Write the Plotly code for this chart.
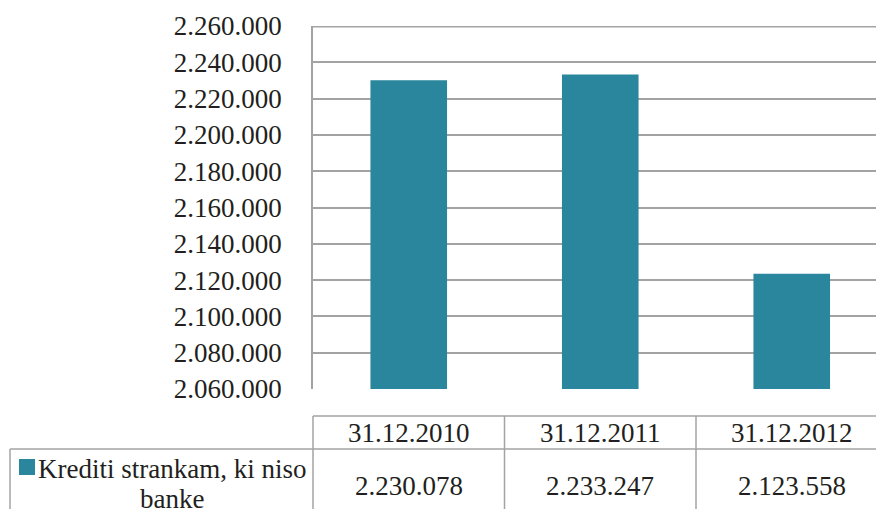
import plotly.graph_objects as go

categories = ["31.12.2010", "31.12.2011", "31.12.2012"]
values = [2230078, 2233247, 2123558]
series_name_lines = ["Krediti strankam, ki niso", "banke"]
y_min, y_max, y_step = 2060000, 2260000, 20000

BAR = "#2a869c"
GRID = "#a3a3a3"
TXT = "#231f20"
FONT = "Liberation Serif"
FS = 27

W, H = 876, 509
L, R, T, B = 313, 0, 26, 120
PW, PH = W - L - R, H - T - B


def px_x(px):
    return (px - L) / PW


def px_y(py):
    return (H - B - py) / PH


def fmt(v):
    return f"{v:,}".replace(",", ".")


fig = go.Figure()
fig.add_trace(go.Bar(
    x=list(range(len(categories))), y=values, name=" ".join(series_name_lines),
    marker=dict(color=BAR, line=dict(width=0)), width=0.40, showlegend=False,
))

shapes = []
line = dict(color=GRID, width=1.5)
# top gridline (at plot edge)
shapes.append(dict(type="line", xref="paper", yref="paper", x0=0, x1=1,
                   y0=0.998, y1=0.998, line=line))
# table lines
shapes.append(dict(type="line", xref="paper", yref="paper", x0=0, x1=1,
                   y0=px_y(416), y1=px_y(416), line=line))
shapes.append(dict(type="line", xref="paper", yref="paper", x0=px_x(10), x1=1,
                   y0=px_y(449), y1=px_y(449), line=line))
shapes.append(dict(type="line", xref="paper", yref="paper", x0=px_x(10), x1=px_x(10),
                   y0=px_y(449), y1=px_y(540), line=line))
shapes.append(dict(type="line", xref="paper", yref="paper", x0=0, x1=0,
                   y0=px_y(416), y1=px_y(540), line=line))
for i in range(len(categories) - 1):
    shapes.append(dict(type="line", xref="x", yref="paper", x0=i + 0.5, x1=i + 0.5,
                       y0=px_y(416), y1=px_y(540), line=line))
# legend key
shapes.append(dict(type="rect", xref="paper", yref="paper", x0=px_x(19), x1=px_x(35),
                   y0=px_y(475), y1=px_y(459), fillcolor=BAR, line=dict(width=0)))

annotations = []
for i, (c, v) in enumerate(zip(categories, values)):
    annotations.append(dict(x=i, xref="x", y=px_y(433), yref="paper", text=c,
                            showarrow=False, xanchor="center", yanchor="middle",
                            font=dict(family=FONT, size=FS, color=TXT)))
    annotations.append(dict(x=i, xref="x", y=px_y(486), yref="paper", text=fmt(v),
                            showarrow=False, xanchor="center", yanchor="middle",
                            font=dict(family=FONT, size=FS, color=TXT)))
annotations.append(dict(x=px_x(171.5), xref="paper", y=px_y(469), yref="paper",
                        text=series_name_lines[0], showarrow=False, xanchor="center",
                        yanchor="middle", font=dict(family=FONT, size=FS, color=TXT)))
annotations.append(dict(x=px_x(171.5), xref="paper", y=px_y(499), yref="paper",
                        text=series_name_lines[1], showarrow=False, xanchor="center",
                        yanchor="middle", font=dict(family=FONT, size=FS, color=TXT)))

tickvals = list(range(y_min, y_max + 1, y_step))
fig.update_layout(
    width=W, height=H, margin=dict(l=L, r=R, t=T, b=B, pad=0),
    paper_bgcolor="white", plot_bgcolor="white",
    font=dict(family=FONT, size=FS, color=TXT),
    separators=",.",
    bargap=0.6,
    xaxis=dict(range=[-0.5, -0.5 + PW / 191.5], showticklabels=False, showgrid=False,
               zeroline=False, showline=False, ticks=""),
    yaxis=dict(range=[y_min, y_max], tickvals=tickvals,
               ticktext=[fmt(v) for v in tickvals],
               showgrid=True, gridcolor=GRID, gridwidth=1.5,
               showline=True, linecolor=GRID, linewidth=1.5,
               zeroline=False, ticks="", ticklabelstandoff=24,
               tickfont=dict(family=FONT, size=FS, color=TXT)),
    shapes=shapes, annotations=annotations,
)

fig.write_html("out.html")
